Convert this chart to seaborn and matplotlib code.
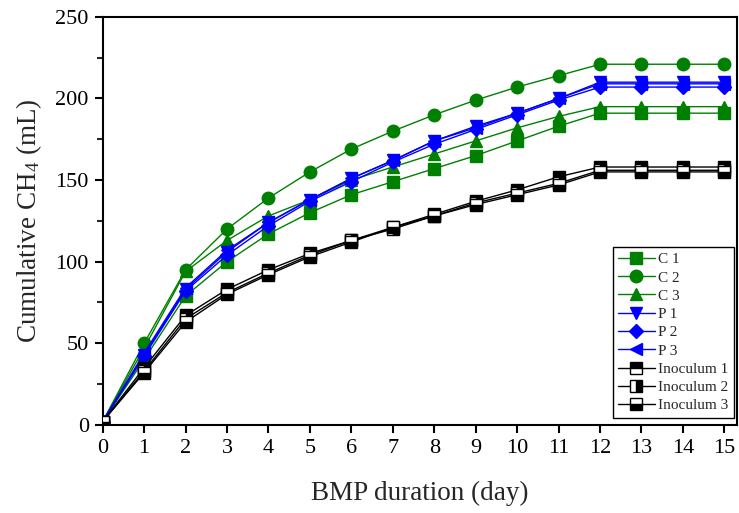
import numpy as np
import pandas as pd
import matplotlib
matplotlib.use("Agg")
import matplotlib.pyplot as plt
import seaborn as sns
from matplotlib.ticker import MultipleLocator

days = list(range(16))

c1 = [2, 40, 79, 100, 117, 130, 141, 149, 157, 165, 174, 183, 191, 191, 191, 191]
c2 = [2, 50, 95, 120, 139, 155, 169, 180, 190, 199, 207, 214, 221, 221, 221, 221]
c3 = [2, 47, 94, 113, 128, 138, 150, 158, 166, 174, 182, 189, 195, 195, 195, 195]
p1 = [2, 43, 83, 106, 124, 138, 151, 162, 174, 183, 191, 200, 210, 210, 210, 210]
p2 = [2, 42, 82, 104, 122, 137, 149, 161, 172, 181, 190, 199, 207, 207, 207, 207]
p3 = [2, 44, 84, 107, 124, 138, 151, 162, 174, 182, 191, 200, 209, 209, 209, 209]
inoc1 = [2, 35, 67, 83, 95, 105, 113, 121, 129, 137, 144, 152, 158, 158, 158, 158]
inoc2 = [2, 33, 65, 81, 93, 104, 113, 120, 128, 136, 142, 148, 156, 156, 156, 156]
inoc3 = [2, 32, 63, 80, 92, 103, 112, 121, 128, 135, 141, 147, 155, 155, 155, 155]

series = [
    ("C 1", c1, "#008000", "s", "full"),
    ("C 2", c2, "#008000", "o", "full"),
    ("C 3", c3, "#008000", "^", "full"),
    ("P 1", p1, "#0000ff", "v", "full"),
    ("P 2", p2, "#0000ff", "D", "full"),
    ("P 3", p3, "#0000ff", "<", "full"),
    ("Inoculum 1", inoc1, "black", "s", "top"),
    ("Inoculum 2", inoc2, "black", "s", "right"),
    ("Inoculum 3", inoc3, "black", "s", "bottom"),
]

sns.set_theme(style="ticks")
plt.rcParams["font.family"] = ["Liberation Serif", "DejaVu Serif"]
plt.rcParams["mathtext.fontset"] = "custom"
plt.rcParams["mathtext.rm"] = "Liberation Serif"
plt.rcParams["mathtext.it"] = "Liberation Serif:italic"

fig = plt.figure(figsize=(7.39, 5.13), dpi=100)
ax = fig.add_axes([0.139, 0.172, 0.858, 0.795])

for label, vals, color, marker, fill in series:
    df = pd.DataFrame({"day": days, "ch4": vals})
    ms = 9 if marker == "o" else 8.5
    if marker == "D":
        ms = 7.5
    sns.lineplot(
        data=df, x="day", y="ch4", ax=ax, label=label,
        color=color, linewidth=1.0, marker=marker, markersize=ms,
        markeredgecolor=color if fill == "full" else "black",
        markerfacecolor=color if fill == "full" else "black",
        markerfacecoloralt="white", fillstyle=fill,
        markeredgewidth=1.0, zorder=3,
    )

ax.set_xlim(0, 15.3)
ax.set_ylim(0, 250)
ax.xaxis.set_major_locator(MultipleLocator(1))
ax.yaxis.set_major_locator(MultipleLocator(50))
ax.yaxis.set_minor_locator(MultipleLocator(25))
ax.tick_params(axis="both", which="major", direction="out", length=6, width=1.5,
               labelsize=16, colors="black", top=False, right=False, pad=4)
ax.tick_params(axis="y", which="minor", direction="out", length=4, width=1.5,
               right=False)
for sp in ax.spines.values():
    sp.set_linewidth(1.5)
    sp.set_color("black")

ax.set_xlabel("BMP duration (day)", fontsize=19.5, labelpad=17)
ax.set_ylabel("Cumulative CH$_4$ (mL)", fontsize=19.5, labelpad=8)

leg = ax.legend(loc="lower right", fontsize=11, frameon=True, fancybox=False,
                edgecolor="black", framealpha=1, handlelength=2.4,
                borderpad=0.35, labelspacing=0.3, handletextpad=0.25,
                borderaxespad=0, bbox_to_anchor=(0.9957, 0.017))
leg.get_frame().set_linewidth(1.0)

fig.savefig("out.png", dpi=100)
